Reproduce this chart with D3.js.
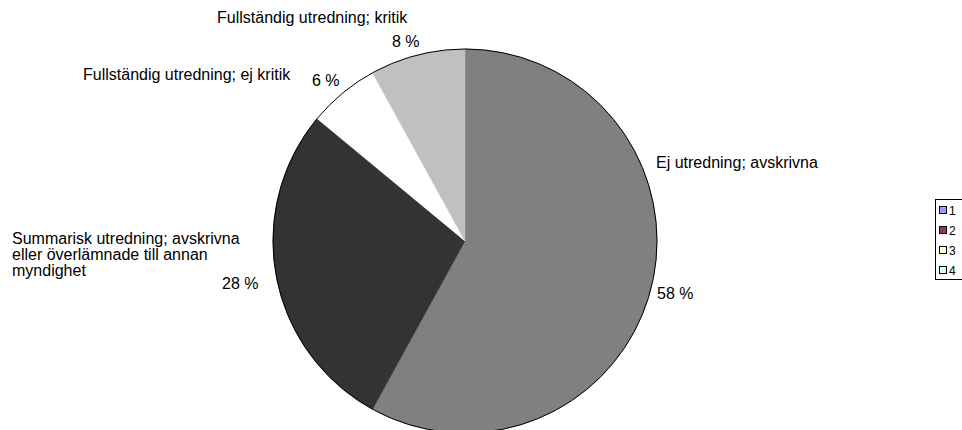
<!DOCTYPE html>
<html>
<head>
<meta charset="utf-8">
<script src="https://cdn.jsdelivr.net/npm/d3@7"></script>
<style>
  html, body { margin: 0; padding: 0; background: #fff; }
  svg { display: block; font-family: "Liberation Sans", Arial, sans-serif; }
</style>
</head>
<body>
<svg id="chart" width="962" height="430"></svg>
<script>
// ---- data ----
const categories = [
  "Ej utredning; avskrivna",
  "Summarisk utredning; avskrivna eller överlämnade till annan myndighet",
  "Fullständig utredning; ej kritik",
  "Fullständig utredning; kritik"
];
const values = [58, 28, 6, 8];
const percentLabels = ["58 %", "28 %", "6 %", "8 %"];
const legendLabels = ["1", "2", "3", "4"];

// ---- styles / layout ----
const sliceColors = ["#808080", "#333333", "#ffffff", "#c0c0c0"];
const legendColors = ["#9999ff", "#993366", "#ffffcc", "#ccffff"];
const cx = 465, cy = 241, r = 192;

// label layout: category-name lines and percent label positions
const nameLayout = [
  { x: 656, y: 168, lines: ["Ej utredning; avskrivna"] },
  { x: 12, y: 244, lines: ["Summarisk utredning; avskrivna", "eller överlämnade till annan", "myndighet"] },
  { x: 83, y: 80, lines: ["Fullständig utredning; ej kritik"] },
  { x: 217, y: 23, lines: ["Fullständig utredning; kritik"] }
];
const pctLayout = [
  { x: 657, y: 299 },
  { x: 222, y: 289 },
  { x: 312, y: 86 },
  { x: 392, y: 47 }
];

const svg = d3.select("#chart");

const pie = d3.pie().sort(null).value(d => d)
  .startAngle(0).endAngle(2 * Math.PI);
const arc = d3.arc().innerRadius(0).outerRadius(r);
const arcs = pie(values);

const g = svg.append("g").attr("transform", `translate(${cx},${cy})`);
g.selectAll("path.slice")
  .data(arcs)
  .join("path")
  .attr("class", "slice")
  .attr("d", arc)
  .attr("fill", (d, i) => sliceColors[i])
  .attr("stroke", (d, i) => sliceColors[i])
  .attr("stroke-width", 0.5);

// outer outline
g.append("circle").attr("r", r).attr("fill", "none").attr("stroke", "#000").attr("stroke-width", 1);

const fontSize = 16;
// category labels
nameLayout.forEach((l, i) => {
  const t = svg.append("text")
    .attr("x", l.x).attr("y", l.y)
    .attr("font-size", fontSize).attr("fill", "#000");
  l.lines.forEach((line, j) => {
    t.append("tspan").attr("x", l.x).attr("y", l.y + j * 16).text(line);
  });
});
// percent labels
pctLayout.forEach((p, i) => {
  svg.append("text").attr("x", p.x).attr("y", p.y)
    .attr("font-size", fontSize).attr("fill", "#000")
    .text(percentLabels[i]);
});

// legend
const lg = svg.append("g");
lg.append("rect").attr("x", 935.5).attr("y", 199.5).attr("width", 40).attr("height", 80)
  .attr("fill", "#fff").attr("stroke", "#000").attr("stroke-width", 1);
const ly = d3.scaleBand().domain(legendLabels).range([200, 280]);
legendLabels.forEach((lab, i) => {
  const y = Math.round(ly(lab) + ly.bandwidth() / 2);
  lg.append("rect").attr("x", 939.5).attr("y", y - 3.5).attr("width", 7).attr("height", 7)
    .attr("fill", legendColors[i]).attr("stroke", "#000").attr("stroke-width", 1);
  lg.append("text").attr("x", 949).attr("y", y + 4.5).attr("font-size", 12).attr("fill", "#000").text(lab);
});
</script>
</body>
</html>
